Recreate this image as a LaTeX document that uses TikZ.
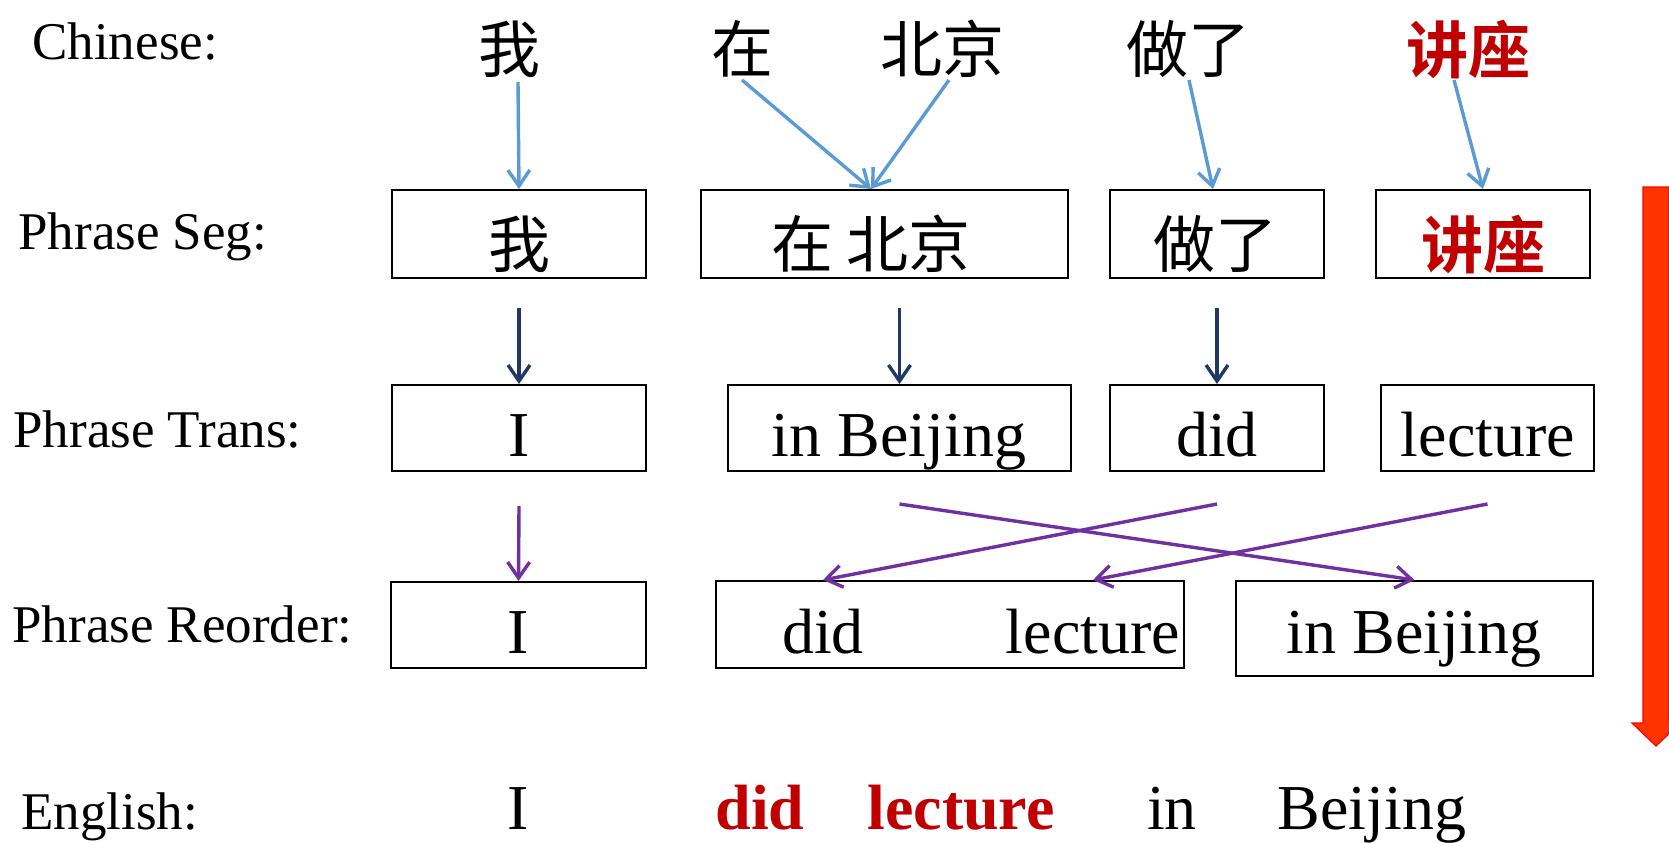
\documentclass[tikz,border=0pt]{standalone}
\usepackage{fontspec}
\setmainfont{Liberation Serif}
\newfontfamily\cjk{Noto Sans CJK SC}
\newfontfamily\cjkb{Noto Sans CJK SC Bold}
\usetikzlibrary{arrows.meta,calc,fit}
\definecolor{abl}{HTML}{5B9BD5}
\definecolor{anv}{HTML}{1F3864}
\definecolor{apu}{HTML}{7030A0}
\definecolor{tred}{HTML}{C00000}
\definecolor{bigred}{HTML}{FF3300}
\begin{document}
\begin{tikzpicture}[x=0.5pt,y=-0.5pt,
  lab/.style={anchor=base west,inner sep=0pt,font=\fontsize{26.5}{30}\selectfont},
  zh/.style={inner sep=0pt,font=\cjk\fontsize{31}{36}\selectfont},
  zhr/.style={inner sep=0pt,text=tred,font=\cjkb\fontsize{31}{36}\selectfont},
  en/.style={anchor=base,inner sep=0pt,font=\fontsize{32}{38}\selectfont},
  enr/.style={anchor=base,inner sep=0pt,text=tred,font=\bfseries\fontsize{32}{38}\selectfont},
  box/.style={draw=black,line width=1pt,inner sep=0pt},
  conn/.style={line width=1.7pt,-{Straight Barb[length=8pt,width=11pt]}},
  cblue/.style={conn,draw=abl},
  cnavy/.style={conn,draw=anv},
  cpurp/.style={conn,draw=apu}
]
\useasboundingbox (0,0) rectangle (1669,842);

% row labels
\node[lab] (lchi) at (32,59) {Chinese:};
\node[lab] (lseg) at (18,249) {Phrase Seg:};
\node[lab] (ltr) at (13,447) {Phrase Trans:};
\node[lab] (lre) at (12,642) {Phrase Reorder:};
\node[lab] (len) at (21,829) {English:};

% Chinese words
\node[zh] (zc1) at (509,49) {我};
\node[zh] (zc2) at (742,49) {在};
\node[zh] (zc3) at (942,49) {北京};
\node[zh] (zc4) at (1188,49) {做了};
\node[zhr] (zc5) at (1468,49) {讲座};

% segmentation boxes
\node[box,fit={(392,190) (646,278)}] (s1) {};
\node[box,fit={(701,190) (1068,278)}] (s2) {};
\node[box,fit={(1110,190) (1324,278)}] (s3) {};
\node[box,fit={(1376,190) (1590,278)}] (s4) {};
\node[zh] (zs1) at (519,244) {我};
\node[zh] (zs2) at (871,244) {在 北京};
\node[zh] (zs3) at (1215,244) {做了};
\node[zhr] (zs4) at (1483,244) {讲座};

% translation boxes
\node[box,fit={(392,385) (646,471)}] (t1) {};
\node[box,fit={(728,385) (1071,471)}] (t2) {};
\node[box,fit={(1110,385) (1324,471)}] (t3) {};
\node[box,fit={(1381,385) (1594,471)}] (t4) {};
\node[en] (et1) at (519,456) {I};
\node[en] (et2) at (899,456) {in Beijing};
\node[en] (et3) at (1217,456) {did};
\node[en] (et4) at (1488,456) {lecture};

% reorder boxes
\node[box,fit={(391,582) (646,668)}] (r1) {};
\node[box,fit={(716,581) (1184,668)}] (r2) {};
\node[box,fit={(1236,581) (1593,676)}] (r3) {};
\node[en] (er1) at (518,653) {I};
\node[en] (er2a) at (823,653) {did};
\node[en] (er2b) at (1093,653) {lecture};
\node[en] (er3) at (1414,653) {in Beijing};

% English output
\node[en] (w1) at (518,829) {I};
\node[enr] (w2) at (760,829) {did};
\node[enr] (w3) at (961,829) {lecture};
\node[en] (w4) at (1172,829) {in};
\node[en] (w5) at (1372,829) {Beijing};

% blue arrows: Chinese -> segmentation
\coordinate (b1) at (518,82);
\coordinate (b2) at (742,80);
\coordinate (b3) at (949,80);
\coordinate (b4) at (1189,80);
\coordinate (b5) at (1454,80);
\draw[cblue] (b1) -- (s1.north);
\draw[cblue] (b2) -- (zs2 |- s2.north);
\draw[cblue] (b3) -- (zs2 |- s2.north);
\draw[cblue] (b4) -- ($(s3.north)+(-4,0)$);
\draw[cblue] (b5) -- (s4.north);

% navy arrows: segmentation -> translation
\draw[cnavy] ($(t1.north)+(0,-76)$) -- (t1.north);
\draw[cnavy] ($(t2.north)+(0,-76)$) -- (t2.north);
\draw[cnavy] ($(t3.north)+(0,-76)$) -- (t3.north);

% purple arrows: translation -> reorder
\draw[cpurp] ($(t1.south)+(0,34)$) -- (r1.north);
\draw[cpurp] ($(t2.south)+(0,32)$) -- (r3.north);
\draw[cpurp] ($(t3.south)+(0,32)$) -- (er2a |- r2.north);
\draw[cpurp] ($(t4.south)+(0,32)$) -- (er2b |- r2.north);

% big red process arrow
\filldraw[fill=bigred,draw=red,line width=0.6pt]
  (1643,187) -- (1669,187) -- (1669,723) -- (1680,723) -- (1656,746)
  -- (1632,723) -- (1643,723) -- cycle;
\end{tikzpicture}
\end{document}
